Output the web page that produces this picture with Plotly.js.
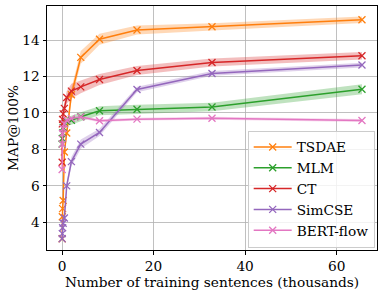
<!DOCTYPE html>
<html><head><meta charset="utf-8">
<script src="https://cdn.plot.ly/plotly-3.0.1.min.js"></script>
<style>html,body{margin:0;padding:0;background:#fff}#c{width:382px;height:294px}</style>
</head><body><div id="c"></div>
<script>
const xThousands = [0.032, 0.064, 0.128, 0.256, 0.512, 1.024, 2.048, 4.096, 8.192, 16.384, 32.768, 65.536];
const seriesNames = ["TSDAE", "MLM", "CT", "SimCSE", "BERT-flow"];
const tsdae    = [3.1, 4.3, 4.75, 5.2, 7.86, 8.9, 11.0, 13.05, 14.05, 14.55, 14.73, 15.12];
const tsdaeStd = [0.1, 0.15, 0.2, 0.25, 0.3, 0.35, 0.35, 0.35, 0.3, 0.25, 0.2, 0.18];
const mlm      = [8.3, 8.6, 8.9, 9.2, 9.42, 9.55, 9.6, 9.79, 10.12, 10.2, 10.33, 11.3];
const mlmStd   = [0.2, 0.2, 0.2, 0.2, 0.2, 0.22, 0.25, 0.25, 0.25, 0.25, 0.23, 0.27];
const ct       = [7.3, 9.4, 9.65, 9.95, 10.25, 10.85, 11.2, 11.43, 11.84, 12.33, 12.77, 13.14];
const ctStd    = [0.15, 0.2, 0.25, 0.3, 0.3, 0.35, 0.4, 0.35, 0.3, 0.25, 0.22, 0.2];
const simcse   = [3.1, 3.38, 3.7, 3.95, 4.24, 6.0, 7.33, 8.29, 8.93, 11.29, 12.17, 12.63];
const simcseStd= [0.1, 0.1, 0.12, 0.12, 0.15, 0.2, 0.25, 0.25, 0.2, 0.15, 0.13, 0.13];
const bertflow = [6.9, 8.3, 8.87, 9.15, 9.4, 9.6, 9.7, 9.78, 9.57, 9.66, 9.71, 9.59];
const bertflowStd = [0.1, 0.1, 0.1, 0.1, 0.1, 0.1, 0.08, 0.08, 0.08, 0.08, 0.08, 0.08];

const means = [tsdae, mlm, ct, simcse, bertflow];
const stds = [tsdaeStd, mlmStd, ctStd, simcseStd, bertflowStd];
const colors = ["#ff7f0e", "#2ca02c", "#d62728", "#9467bd", "#e377c2"];
const fills = ["rgba(255,127,14,0.3)", "rgba(44,160,44,0.3)", "rgba(214,39,40,0.3)", "rgba(148,103,189,0.3)", "rgba(227,119,194,0.3)"];

const traces = [];
for (let i = 0; i < means.length; i++) {
  const up = means[i].map((v, j) => v + stds[i][j]);
  const lo = means[i].map((v, j) => v - stds[i][j]);
  traces.push({
    x: xThousands.concat(xThousands.slice().reverse()),
    y: up.concat(lo.slice().reverse()),
    type: "scatter", mode: "lines", fill: "toself",
    fillcolor: fills[i], line: {width: 0, color: fills[i]},
    hoverinfo: "skip", showlegend: false
  });
}
for (let i = 0; i < means.length; i++) {
  traces.push({
    x: xThousands, y: means[i], name: seriesNames[i],
    type: "scatter", mode: "lines+markers",
    line: {color: colors[i], width: 1.5},
    marker: {symbol: "x-thin", size: 7, color: colors[i], line: {color: colors[i], width: 1.3}}
  });
}

const fontFam = "DejaVu Serif";
const fs = 13.7;
const layout = {
  width: 382, height: 294,
  margin: {l: 47, r: 5, t: 6, b: 44},
  paper_bgcolor: "#fff", plot_bgcolor: "#fff",
  font: {family: fontFam, size: fs, color: "#000"},
  showlegend: true,
  legend: {
    x: 0.993, y: 0.01, xanchor: "right", yanchor: "bottom",
    bgcolor: "rgba(255,255,255,0.8)", bordercolor: "#cccccc", borderwidth: 1,
    font: {family: fontFam, size: fs, color: "#000"},
    tracegroupgap: 0, itemwidth: 38
  },
  xaxis: {
    range: [-3.28, 68.82], tickvals: [0, 20, 40, 60], ticktext: ["0", "20", "40", "60"],
    showgrid: true, gridcolor: "#b0b0b0", gridwidth: 0.8, zeroline: false,
    showline: true, linecolor: "#000", linewidth: 1, mirror: true,
    ticks: "outside", ticklen: 3.5, tickcolor: "#000",
    tickfont: {family: fontFam, size: fs},
    title: {text: "Number of training sentences (thousands)", font: {family: fontFam, size: fs}, standoff: 3}
  },
  yaxis: {
    range: [2.48, 15.87], tickvals: [4, 6, 8, 10, 12, 14],
    showgrid: true, gridcolor: "#b0b0b0", gridwidth: 0.8, zeroline: false,
    showline: true, linecolor: "#000", linewidth: 1, mirror: true,
    ticks: "outside", ticklen: 3.5, tickcolor: "#000",
    tickfont: {family: fontFam, size: fs},
    title: {text: "MAP@100%", font: {family: fontFam, size: fs}, standoff: 0}
  }
};
Plotly.newPlot("c", traces, layout, {displayModeBar: false, staticPlot: true});
</script></body></html>
